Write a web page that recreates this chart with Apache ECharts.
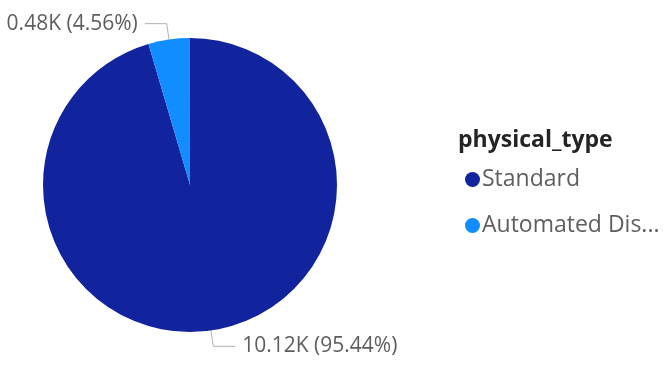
<!DOCTYPE html>
<html><head><meta charset="utf-8">
<script src="https://cdn.jsdelivr.net/npm/echarts@6/dist/echarts.min.js"></script>
<style>html,body{margin:0;padding:0;background:#fff}#c{width:667px;height:368px}</style>
</head><body><div id="c"></div>
<script>
const categories = ['Standard', 'Automated Dispensing'];
const values = [10117, 483];
const colors = ['#12239E', '#118DFF'];
const legendTitle = 'physical_type';

const total = values.reduce((a, b) => a + b, 0);
const font = "'Segoe UI', 'Open Sans', sans-serif";
const chart = echarts.init(document.getElementById('c'));
chart.setOption({
  animation: false,
  title: {
    text: legendTitle, left: 453, top: 124,
    textStyle: { fontFamily: font, fontSize: 23, fontWeight: 'bold', color: '#252423' }
  },
  legend: {
    orient: 'vertical', left: 460, top: 163, itemGap: 23,
    icon: 'circle', itemWidth: 15, itemHeight: 15,
    formatter: n => n.length > 13 ? n.slice(0, 13) + '...' : n,
    textStyle: { fontFamily: font, fontSize: 23, color: '#605E5C', padding: [0, 0, 0, -3] }
  },
  series: [{
    type: 'pie', center: [190, 185], radius: 147, startAngle: 90,
    data: categories.map((c, i) => ({ name: c, value: values[i], itemStyle: { color: colors[i] } })),
    label: {
      formatter: p => (p.value / 1000).toFixed(2) + 'K (' + (p.value / total * 100).toFixed(2) + '%)',
      fontFamily: font, fontSize: 21, color: '#605E5C', distanceToLabelLine: 7,
      overflow: 'none', edgeDistance: 0
    },
    labelLine: { length: 16, length2: 22, lineStyle: { color: '#B3B0AD', width: 1 } },
    emphasis: { disabled: true }
  }]
});
</script></body></html>
